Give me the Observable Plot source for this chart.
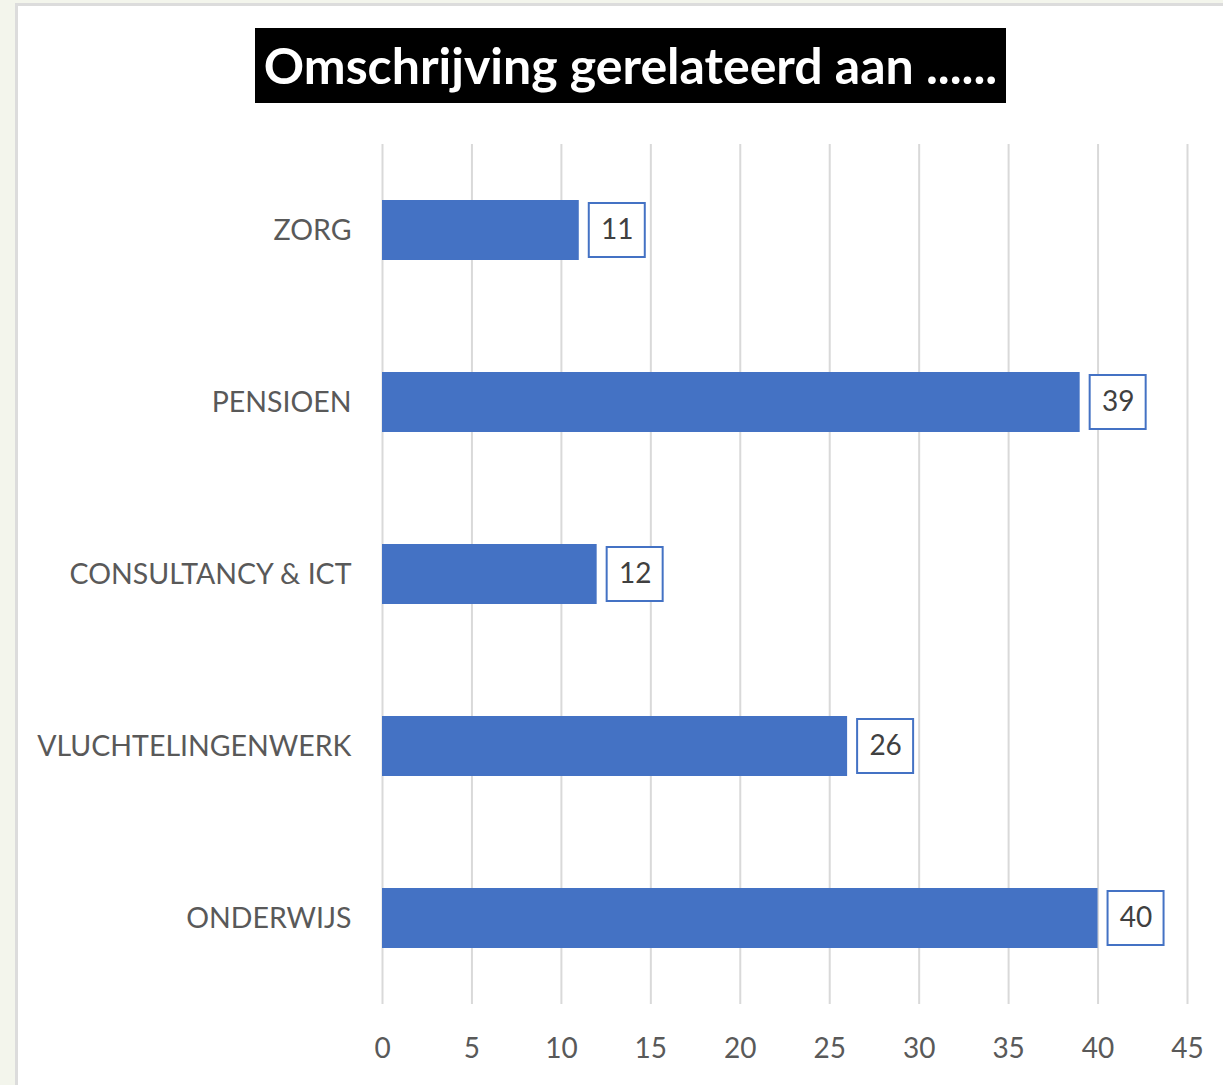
<!DOCTYPE html>
<html>
<head>
<meta charset="utf-8">
<script src="https://cdn.jsdelivr.net/npm/d3@7"></script>
<script src="https://cdn.jsdelivr.net/npm/@observablehq/plot@0.6"></script>
<style>
  html, body { margin: 0; padding: 0; background: #f3f5ec; }
  body { width: 1223px; height: 1085px; position: relative; overflow: hidden; font-family: Lato, "Open Sans", sans-serif; }
  #frame { position: absolute; left: 15px; top: 3px; width: 1220px; height: 1100px; background: #ffffff; border-left: 3px solid #dcdcdc; border-top: 3px solid #dcdcdc; box-sizing: border-box; }
  #title { position: absolute; left: 255px; top: 28px; width: 751px; height: 75px; background: #000; color: #fff; font-weight: bold; font-size: 50px; line-height: 75px; text-align: center; white-space: nowrap; z-index: 2; }
  #chart { position: absolute; left: 0; top: 120px; z-index: 1; }
</style>
</head>
<body>
<div id="frame"></div>
<div id="title">Omschrijving gerelateerd aan ......</div>
<div id="chart"></div>
<script>
const categories = ["ZORG", "PENSIOEN", "CONSULTANCY & ICT", "VLUCHTELINGENWERK", "ONDERWIJS"];
const values = [11, 39, 12, 26, 40];
const xTicks = [0, 5, 10, 15, 20, 25, 30, 35, 40, 45];

const data = categories.map((c, i) => ({category: c, value: values[i]}));

const plot = Plot.plot({
  width: 1223,
  height: 965,
  marginLeft: 382,
  marginRight: 36,
  marginTop: 24,
  marginBottom: 81,
  style: {background: "transparent", fontFamily: "Lato, 'Open Sans', sans-serif", color: "#595959"},
  x: {domain: [0, 45], ticks: xTicks},
  y: {domain: categories, paddingInner: 0.65, paddingOuter: 0.325},
  marks: [
    Plot.ruleX(xTicks, {stroke: "#d9d9d9", strokeWidth: 2}),
    Plot.axisX({ticks: xTicks, tickSize: 0, tickPadding: 34, fontSize: 28, fill: "#595959", label: null}),
    Plot.axisY({tickSize: 0, tickPadding: 31, fontSize: 28.5, fill: "#595959", label: null}),
    Plot.barX(data, {x: "value", y: "category", fill: "#4472c4"}),
    Plot.barX(data, {x1: "value", x2: "value", y: "category", insetLeft: 10, insetRight: -66, insetTop: 3, insetBottom: 3, fill: "#ffffff", stroke: "#4472c4", strokeWidth: 2}),
    Plot.text(data, {x: "value", y: "category", text: d => String(d.value), dx: 38, fontSize: 28, fill: "#404040", textAnchor: "middle"})
  ]
});
document.getElementById("chart").appendChild(plot);
</script>
</body>
</html>
